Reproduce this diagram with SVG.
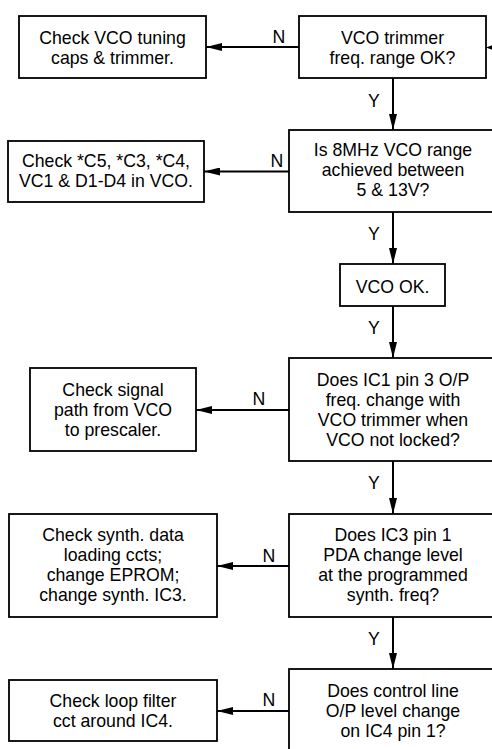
<svg xmlns="http://www.w3.org/2000/svg" width="492" height="749" viewBox="0 0 492 749">
  <style>
    .box { fill: #fff; stroke: #000; stroke-width: 1.8; }
    .t { font-family: "Liberation Sans", Arial, sans-serif; font-size: 17.7px; fill: #000; text-anchor: middle; }
    .wire { stroke: #000; stroke-width: 2; fill: none; marker-end: url(#ah); }
  </style>
  <defs>
    <marker id="ah" markerUnits="userSpaceOnUse" markerWidth="16" markerHeight="8" refX="16" refY="4" orient="auto">
      <path d="M0,0 L16,4 L0,8 Z" fill="#000"/>
    </marker>
  </defs>
  <rect width="492" height="749" fill="#fff"/>

  <g id="connectors">
    <line class="wire" x1="299" y1="47" x2="206" y2="47"/>
    <line class="wire" x1="393" y1="78" x2="393" y2="130"/>
    <line class="wire" x1="289" y1="171.5" x2="204" y2="171.5"/>
    <line class="wire" x1="393" y1="212" x2="393" y2="264"/>
    <line class="wire" x1="393" y1="306" x2="393" y2="358"/>
    <line class="wire" x1="289" y1="410" x2="196" y2="410"/>
    <line class="wire" x1="393" y1="461" x2="393" y2="514"/>
    <line class="wire" x1="289" y1="566" x2="217" y2="566"/>
    <line class="wire" x1="393" y1="617" x2="393" y2="669"/>
    <line class="wire" x1="289" y1="711" x2="217" y2="711"/>
    <!-- incoming arrow tip at the right edge -->
    <polygon points="486,47.5 492,45.2 492,49.8" fill="#000"/>
    <text class="t" x="279" y="43">N</text>
    <text class="t" x="277" y="167">N</text>
    <text class="t" x="259" y="405">N</text>
    <text class="t" x="269" y="562">N</text>
    <text class="t" x="269" y="706">N</text>
    <text class="t" x="374" y="107">Y</text>
    <text class="t" x="374" y="240">Y</text>
    <text class="t" x="374" y="334">Y</text>
    <text class="t" x="374" y="489">Y</text>
    <text class="t" x="374" y="645">Y</text>
  </g>

  <g id="check-tuning">
    <rect class="box" x="19" y="16" width="187" height="62"/>
    <text class="t" x="112.5" y="43.5">Check VCO tuning</text>
    <text class="t" x="112.5" y="63.5">caps &amp; trimmer.</text>
  </g>
  <g id="trimmer-range">
    <rect class="box" x="299" y="16" width="187" height="62"/>
    <text class="t" x="392.5" y="43.5">VCO trimmer</text>
    <text class="t" x="392.5" y="63.5">freq. range OK?</text>
  </g>
  <g id="vco-range">
    <rect class="box" x="289" y="130" width="208" height="82"/>
    <text class="t" x="393" y="156">Is 8MHz VCO range</text>
    <text class="t" x="393" y="176">achieved between</text>
    <text class="t" x="393" y="196">5 &amp; 13V?</text>
  </g>
  <g id="check-caps">
    <rect class="box" x="8" y="141" width="196" height="61"/>
    <text class="t" x="106" y="167">Check *C5, *C3, *C4,</text>
    <text class="t" x="106" y="187">VC1 &amp; D1-D4 in VCO.</text>
  </g>
  <g id="vco-ok">
    <rect class="box" x="340" y="264" width="105" height="42"/>
    <text class="t" x="392.5" y="293">VCO OK.</text>
  </g>
  <g id="ic1-check">
    <rect class="box" x="289" y="358" width="208" height="103"/>
    <text class="t" x="393" y="386">Does IC1 pin 3 O/P</text>
    <text class="t" x="393" y="406">freq. change with</text>
    <text class="t" x="393" y="426">VCO trimmer when</text>
    <text class="t" x="393" y="446">VCO not locked?</text>
  </g>
  <g id="check-path">
    <rect class="box" x="30" y="368" width="166" height="83"/>
    <text class="t" x="113" y="396">Check signal</text>
    <text class="t" x="113" y="416">path from VCO</text>
    <text class="t" x="113" y="436">to prescaler.</text>
  </g>
  <g id="ic3-check">
    <rect class="box" x="289" y="514" width="208" height="103"/>
    <text class="t" x="393" y="541">Does IC3 pin 1</text>
    <text class="t" x="393" y="561">PDA change level</text>
    <text class="t" x="393" y="581">at the programmed</text>
    <text class="t" x="393" y="601">synth. freq?</text>
  </g>
  <g id="check-synth">
    <rect class="box" x="9" y="514" width="208" height="103"/>
    <text class="t" x="113" y="541">Check synth. data</text>
    <text class="t" x="113" y="561">loading ccts;</text>
    <text class="t" x="113" y="581">change EPROM;</text>
    <text class="t" x="113" y="601">change synth. IC3.</text>
  </g>
  <g id="control-line">
    <rect class="box" x="289" y="669" width="208" height="95"/>
    <text class="t" x="393" y="697">Does control line</text>
    <text class="t" x="393" y="717">O/P level change</text>
    <text class="t" x="393" y="737">on IC4 pin 1?</text>
  </g>
  <g id="check-loop">
    <rect class="box" x="9" y="680" width="208" height="61"/>
    <text class="t" x="113" y="707">Check loop filter</text>
    <text class="t" x="113" y="727">cct around IC4.</text>
  </g>
</svg>
